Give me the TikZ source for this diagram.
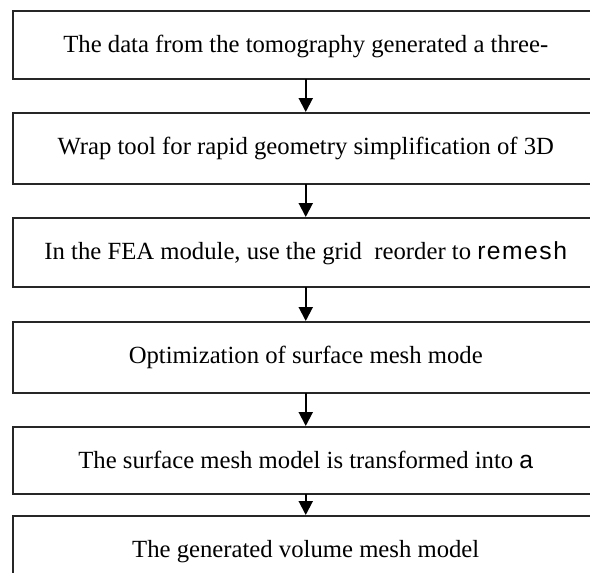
\documentclass[tikz,border=0pt]{standalone}
\usepackage{fontspec}
\setmainfont{Liberation Serif}
\newfontfamily\sansf{Liberation Sans}
\usetikzlibrary{arrows.meta}
\tikzset{
  box/.style={draw=black!85, line width=1.5pt, rectangle, inner sep=0pt,
    minimum width=586pt, anchor=north west, text depth=0pt,
    font=\fontsize{24.7pt}{28pt}\selectfont},
  arr/.style={draw=black, line width=2pt, -{Triangle[width=14pt,length=14pt]}, shorten <=-0.5pt}
}
\begin{document}
\begin{tikzpicture}[x=1pt,y=-1pt]
\useasboundingbox (0,0) rectangle (590,573);
\clip (0,0) rectangle (590,573);
\node[box, minimum height=68pt, text height=16pt] (b1) at (12,10) {The data from the tomography generated a three-};
\node[box, minimum height=71pt, text height=13pt] (b2) at (12,112) {Wrap tool for rapid geometry simplification of 3D};
\node[box, minimum height=69pt, text height=15pt] (b3) at (12,217) {In the FEA module, use the grid\ \ reorder to {\sansf\addfontfeature{LetterSpace=6}remesh}};
\node[box, minimum height=71pt, text height=13pt] (b4) at (12,321) {Optimization of surface mesh mode};
\node[box, minimum height=67pt, text height=17pt] (b5) at (12,426) {The surface mesh model is transformed into {\sansf a}};
\node[box, minimum height=70pt, text height=14pt] (b6) at (12,515) {The generated volume mesh model};
\draw[arr] (b1) -- (b2);
\draw[arr] (b2) -- (b3);
\draw[arr] (b3) -- (b4);
\draw[arr] (b4) -- (b5);
\draw[arr] (b5) -- (b6);
\end{tikzpicture}
\end{document}
